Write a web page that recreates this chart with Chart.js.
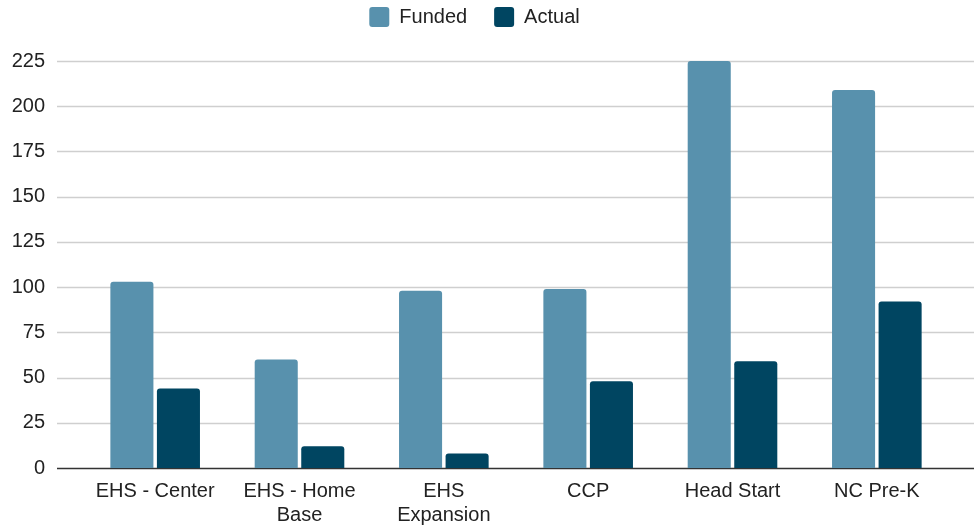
<!DOCTYPE html>
<html>
<head>
<meta charset="utf-8">
<script src="https://cdn.jsdelivr.net/npm/chart.js@4"></script>
<style>
  html, body { margin: 0; padding: 0; background: #fff; }
  #wrap { width: 979px; height: 527px; }
</style>
</head>
<body>
<div id="wrap"><canvas id="chart"></canvas></div>
<script>
const categories = ["EHS - Center", ["EHS - Home", "Base"], ["EHS", "Expansion"], "CCP", "Head Start", "NC Pre-K"];
const funded = [103, 60, 98, 99, 225, 209];
const actual = [44, 12, 8, 48, 59, 92];
const yTicks = [0, 25, 50, 75, 100, 125, 150, 175, 200, 225];

const FONT = "'Liberation Sans', Arial, sans-serif";

// horizontal grid lines run a bit wider than the bar area, like the original
const gridPlugin = {
  id: "wideGrid",
  beforeDatasetsDraw(chart) {
    const ctx = chart.ctx;
    const area = chart.chartArea;
    const y = chart.scales.y;
    ctx.save();
    yTicks.forEach((t) => {
      const py = Math.round(y.getPixelForValue(t)) + 0.5;
      ctx.beginPath();
      ctx.moveTo(area.left - 26, py);
      ctx.lineTo(area.right + 25, py);
      ctx.lineWidth = t === 0 ? 1.4 : 1.3;
      ctx.strokeStyle = t === 0 ? "#333333" : "#cfcfcf";
      ctx.stroke();
    });
    ctx.restore();
  }
};

// fixed legend block height so the plot starts where the original does
const legendGap = {
  id: "legendGap",
  beforeInit(chart) {
    const fit = chart.legend.fit;
    chart.legend.fit = function () {
      fit.bind(chart.legend)();
      this.height = 81;
    };
  }
};

const ctx = document.getElementById("chart").getContext("2d");
new Chart(ctx, {
  type: "bar",
  data: {
    labels: categories,
    datasets: [
      {
        label: "Funded",
        data: funded,
        backgroundColor: "#5891ad",
        borderRadius: 3,
        borderSkipped: "bottom",
        barPercentage: 0.925,
        categoryPercentage: 0.645
      },
      {
        label: "Actual",
        data: actual,
        backgroundColor: "#004561",
        borderRadius: 3,
        borderSkipped: "bottom",
        barPercentage: 0.925,
        categoryPercentage: 0.645
      }
    ]
  },
  options: {
    responsive: true,
    maintainAspectRatio: false,
    animation: false,
    layout: { padding: { left: 0, right: 30, top: -20, bottom: 0 } },
    plugins: {
      tooltip: { enabled: false },
      legend: {
        position: "top",
        labels: {
          boxWidth: 20,
          boxHeight: 20,
          padding: 27,
          color: "#222",
          useBorderRadius: true,
          borderRadius: 3,
          font: { family: FONT, size: 20 }
        }
      }
    },
    scales: {
      x: {
        afterFit(scale) { scale.height = 59; },
        grid: { display: false, drawTicks: false },
        border: { display: false },
        ticks: {
          color: "#222",
          padding: 11,
          maxRotation: 0,
          autoSkip: false,
          font: { family: FONT, size: 20, lineHeight: 1.2 }
        }
      },
      y: {
        min: 0,
        max: 225,
        afterFit(scale) { scale.width = 83; },
        grid: { display: false, drawTicks: false },
        border: { display: false },
        ticks: {
          stepSize: 25,
          padding: 38,
          color: "#222",
          font: { family: FONT, size: 20 }
        }
      }
    }
  },
  plugins: [gridPlugin, legendGap]
});
</script>
</body>
</html>
